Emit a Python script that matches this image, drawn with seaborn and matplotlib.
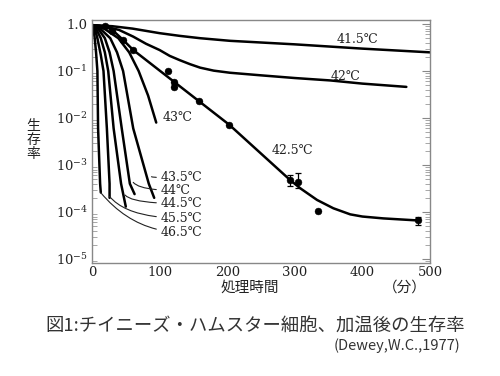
#!/usr/bin/env python
# coding: utf-8

import numpy as np
import pandas as pd
import seaborn as sns
import matplotlib.pyplot as plt
from matplotlib.ticker import FixedLocator, FixedFormatter, LogLocator, NullFormatter

# Curvas de sobrevivência (tempo em minutos, fração sobrevivente)
x_415 = [0, 30, 60, 100, 130, 160, 204, 300, 400, 500]
y_415 = [0.95, 0.9, 0.8, 0.64, 0.56, 0.5, 0.44, 0.37, 0.30, 0.25]

x_42 = [0, 20, 40, 61, 80, 100, 115, 130, 145, 160, 180, 204, 250, 300, 353, 400, 465]
y_42 = [0.95, 0.88, 0.75, 0.54, 0.38, 0.28, 0.21, 0.17, 0.14, 0.118, 0.102, 0.092, 0.081,
        0.071, 0.063, 0.054, 0.046]

x_425 = [0, 10, 20, 30, 46, 61, 203, 293, 308, 333, 357, 382, 400, 431, 482]
y_425 = [0.95, 0.93, 0.88, 0.75, 0.46, 0.28, 0.0072, 4.8e-4, 3.2e-4, 1.8e-4, 1.2e-4, 8.9e-5,
         8.0e-5, 7.3e-5, 6.6e-5]

x_43 = [0, 18, 39, 55, 69, 83, 95]
y_43 = [0.95, 0.8, 0.5, 0.25, 0.1, 0.03, 0.008]

x_435 = [0, 12, 27, 37, 46, 61, 84, 92]
y_435 = [0.95, 0.8, 0.5, 0.25, 0.1, 6e-3, 4e-4, 2e-4]

x_44 = [0, 9, 19, 26, 32, 44, 56, 63]
y_44 = [0.95, 0.8, 0.5, 0.25, 0.1, 6e-3, 4e-4, 2.4e-4]

x_445 = [0, 6, 13, 19, 24, 32, 43, 50]
y_445 = [0.95, 0.8, 0.5, 0.25, 0.1, 6e-3, 4e-4, 1.3e-4]

x_455 = [0, 4, 8, 13, 17, 22, 26, 26]
y_455 = [0.95, 0.8, 0.5, 0.22, 0.1, 6e-3, 4e-4, 2e-4]

x_465 = [0, 2, 4, 6, 8, 9, 12, 13]
y_465 = [0.95, 0.8, 0.5, 0.25, 0.1, 6e-3, 4e-4, 2.6e-4]

# Pontos medidos a 42.5 ℃ com barras de erro
pts_x = [19, 29, 46, 61, 112, 122, 122, 158, 203, 293, 304, 334, 482]
pts_y = [0.89, 0.7, 0.46, 0.28, 0.1, 0.059, 0.045, 0.023, 0.0072, 4.8e-4, 4.4e-4, 1.07e-4, 6.6e-5]
pts_lo = [0.89, 0.7, 0.46, 0.28, 0.1, 0.059, 0.045, 0.023, 0.0072, 3.6e-4, 3.2e-4, 1.07e-4, 5.2e-5]
pts_hi = [0.89, 0.7, 0.46, 0.28, 0.1, 0.059, 0.045, 0.023, 0.0072, 6.2e-4, 6.6e-4, 1.07e-4, 7.8e-5]

temps = ['41.5℃', '42℃', '42.5℃', '43℃', '43.5℃', '44℃', '44.5℃', '45.5℃', '46.5℃']
curves_x = [x_415, x_42, x_425, x_43, x_435, x_44, x_445, x_455, x_465]
curves_y = [y_415, y_42, y_425, y_43, y_435, y_44, y_445, y_455, y_465]

ytick_vals = [1, 1e-1, 1e-2, 1e-3, 1e-4, 1e-5]
ytick_labels = ['1.0', '$10^{-1}$', '$10^{-2}$', '$10^{-3}$', '$10^{-4}$', '$10^{-5}$']

df = pd.concat([pd.DataFrame({'t': cx, 's': cy, 'temp': tp})
                for cx, cy, tp in zip(curves_x, curves_y, temps)], ignore_index=True)

sns.set_theme(style='white')
plt.rcParams['font.family'] = ['DejaVu Serif', 'Noto Sans CJK JP']
plt.rcParams['mathtext.fontset'] = 'dejavuserif'

fig = plt.figure(figsize=(5, 3.76), dpi=100)
ax = fig.add_axes([0.184, 0.3005, 0.676, 0.6463])

for tp in temps:
    sub = df[df['temp'] == tp]
    sns.lineplot(data=sub, x='t', y='s', color='black', lw=1.8, estimator=None,
                 sort=False, ax=ax, legend=False)

yerr = [np.array(pts_y) - np.array(pts_lo), np.array(pts_hi) - np.array(pts_y)]
ax.errorbar(pts_x, pts_y, yerr=yerr, fmt='none', ecolor='black', elinewidth=0.9, capsize=2.5,
            capthick=0.9)
sns.scatterplot(x=pts_x, y=pts_y, color='black', s=24, marker='o', edgecolor='black', ax=ax, zorder=5)

ax.set_yscale('log')
ax.set_xlim(0, 500)
ax.set_ylim(8.2e-6, 1.22)
ax.set_xlabel('')
ax.set_ylabel('')

ax.xaxis.set_major_locator(FixedLocator([0, 100, 200, 300, 400, 500]))
ax.yaxis.set_major_locator(FixedLocator(ytick_vals))
ax.yaxis.set_major_formatter(FixedFormatter(ytick_labels))
ax.yaxis.set_minor_locator(LogLocator(base=10, subs=np.arange(2, 10)))
ax.yaxis.set_minor_formatter(NullFormatter())
ax.tick_params(axis='both', which='major', labelsize=9.5, colors='#222222')
ax.tick_params(axis='x', direction='in', length=4, width=0.8, color='#888888', pad=2)
ax.tick_params(axis='y', which='major', direction='in', length=6, width=0.8, color='#888888',
               right=True, pad=3)
ax.tick_params(axis='y', which='minor', direction='in', length=3.5, width=0.6, color='#999999',
               right=True, left=True)
for sp in ax.spines.values():
    sp.set_color('#888888')
    sp.set_linewidth(1.0)

# Rótulos das curvas
lab_kw = dict(fontsize=9, color='#222222', family=['DejaVu Serif', 'Noto Sans CJK JP'])
ax.text(393, 0.46, '41.5℃', ha='center', va='center', **lab_kw)
ax.text(375, 0.078, '42℃', ha='center', va='center', **lab_kw)
ax.text(296, 2.0e-3, '42.5℃', ha='center', va='center', **lab_kw)
ax.text(104, 0.0104, '43℃', ha='left', va='center', **lab_kw)

conn = [('43.5℃', (88, 10 ** -3.25), (102, 10 ** -3.27)),
        ('44℃', (61, 10 ** -3.37), (102, 10 ** -3.54)),
        ('44.5℃', (49, 10 ** -3.64), (102, 10 ** -3.82)),
        ('45.5℃', (26, 10 ** -3.67), (102, 10 ** -4.13)),
        ('46.5℃', (13, 10 ** -3.59), (102, 10 ** -4.43))]
for txt, p0, p1 in conn:
    ax.annotate(txt, xy=p0, xytext=p1, textcoords='data', ha='left', va='center',
                arrowprops=dict(arrowstyle='-', color='#222222', lw=0.8, shrinkA=1, shrinkB=0,
                                connectionstyle='angle3,angleA=0,angleB=-50'),
                **lab_kw)

# Títulos dos eixos
fig.text(0.066, 0.628, '生\n存\n率', ha='center', va='center', fontsize=10,
         linespacing=1.0, family=['Noto Sans CJK JP'], color='#222222')
fig.text(0.50, 0.236, '処理時間', ha='center', va='center', fontsize=10.5,
         family=['Noto Sans CJK JP'], color='#222222')
fig.text(0.81, 0.236, '（分）', ha='center', va='center', fontsize=10.5,
         family=['Noto Sans CJK JP'], color='#222222')

# Legenda da figura
fig.text(0.51, 0.130, '図1:チイニーズ・ハムスター細胞、加温後の生存率', ha='center', va='center',
         fontsize=13.2, family=['Noto Sans CJK JP'], color='#333333')
fig.text(0.92, 0.082, '(Dewey,W.C.,1977)', ha='right', va='center', fontsize=10.5,
         family=['Noto Sans CJK JP', 'DejaVu Sans'], color='#333333')

fig.savefig('out.png', dpi=100, facecolor='white')
